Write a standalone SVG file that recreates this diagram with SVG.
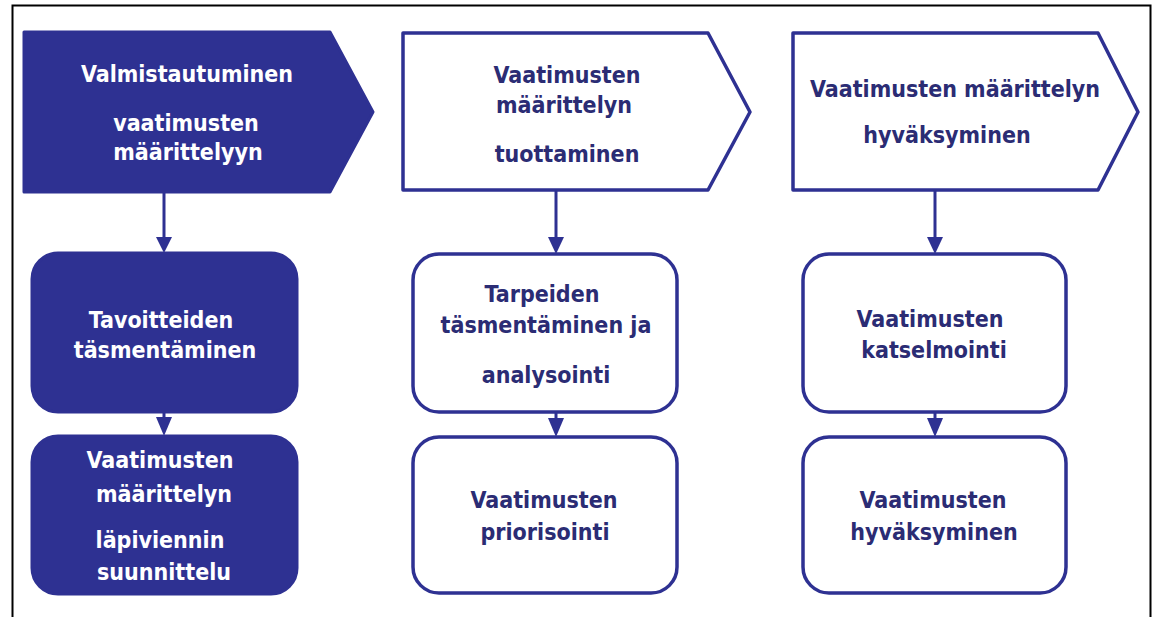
<svg xmlns="http://www.w3.org/2000/svg" width="1157" height="617" viewBox="0 0 1157 617">
  <style>
    .dark { fill: #2e3192; stroke: #2e3192; stroke-width: 3; stroke-linejoin: round; }
    .light { fill: #ffffff; stroke: #2e3192; stroke-width: 3.5; stroke-linejoin: round; }
    text { font-family: "DejaVu Sans Condensed", "DejaVu Sans", sans-serif; font-weight: bold; font-size: 23px; text-anchor: middle; }
    .wt { fill: #ffffff; }
    .bt { fill: #2b2c74; }
    .conn { stroke: #2e3192; stroke-width: 3; fill: none; }
    .head { fill: #2e3192; }
  </style>

  <!-- outer frame (open at the bottom) -->
  <path d="M12.5 617 V5.5 H1150.5 V617" fill="none" stroke="#000" stroke-width="2"/>

  <!-- connectors -->
  <g id="connectors">
    <line class="conn" x1="164" y1="192" x2="164" y2="240"/>
    <polygon class="head" points="156,237 172,237 164,253"/>
    <line class="conn" x1="164" y1="412" x2="164" y2="420"/>
    <polygon class="head" points="156,417 172,417 164,436"/>

    <line class="conn" x1="556" y1="190" x2="556" y2="240"/>
    <polygon class="head" points="548,237 564,237 556,254"/>
    <line class="conn" x1="556" y1="412" x2="556" y2="420"/>
    <polygon class="head" points="548,418 564,418 556,437"/>

    <line class="conn" x1="935" y1="190" x2="935" y2="240"/>
    <polygon class="head" points="927,237 943,237 935,254"/>
    <line class="conn" x1="935" y1="412" x2="935" y2="420"/>
    <polygon class="head" points="927,418 943,418 935,437"/>
  </g>

  <!-- column 1 -->
  <g id="phase-valmistautuminen">
    <polygon class="dark" points="24,32 330,32 373,112 330,192 24,192"/>
    <text class="wt" x="187" y="82">Valmistautuminen</text>
    <text class="wt" x="186" y="131">vaatimusten</text>
    <text class="wt" x="188" y="160">määrittelyyn</text>
  </g>
  <g id="step-tavoitteet">
    <rect class="dark" x="32" y="253" width="265" height="159" rx="26"/>
    <text class="wt" x="161" y="328">Tavoitteiden</text>
    <text class="wt" x="165" y="358">täsmentäminen</text>
  </g>
  <g id="step-suunnittelu">
    <rect class="dark" x="32" y="436" width="265" height="158" rx="26"/>
    <text class="wt" x="160" y="468">Vaatimusten</text>
    <text class="wt" x="164" y="502">määrittelyn</text>
    <text class="wt" x="160" y="548">läpiviennin</text>
    <text class="wt" x="164" y="580">suunnittelu</text>
  </g>

  <!-- column 2 -->
  <g id="phase-tuottaminen">
    <polygon class="light" points="403,33 708,33 750,112 708,190 403,190"/>
    <text class="bt" x="567" y="83">Vaatimusten</text>
    <text class="bt" x="564" y="113">määrittelyn</text>
    <text class="bt" x="567" y="162">tuottaminen</text>
  </g>
  <g id="step-analysointi">
    <rect class="light" x="413" y="254" width="264" height="158" rx="26"/>
    <text class="bt" x="542" y="302">Tarpeiden</text>
    <text class="bt" x="546" y="333">täsmentäminen ja</text>
    <text class="bt" x="546" y="383">analysointi</text>
  </g>
  <g id="step-priorisointi">
    <rect class="light" x="413" y="437" width="264" height="156" rx="26"/>
    <text class="bt" x="544" y="508">Vaatimusten</text>
    <text class="bt" x="545" y="540">priorisointi</text>
  </g>

  <!-- column 3 -->
  <g id="phase-hyvaksyminen">
    <polygon class="light" points="793,33 1098,33 1138,112 1098,190 793,190"/>
    <text class="bt" x="955" y="97">Vaatimusten määrittelyn</text>
    <text class="bt" x="947" y="143">hyväksyminen</text>
  </g>
  <g id="step-katselmointi">
    <rect class="light" x="803" y="254" width="263" height="158" rx="26"/>
    <text class="bt" x="930" y="327">Vaatimusten</text>
    <text class="bt" x="934" y="358">katselmointi</text>
  </g>
  <g id="step-hyvaksyminen">
    <rect class="light" x="803" y="437" width="263" height="156" rx="26"/>
    <text class="bt" x="933" y="508">Vaatimusten</text>
    <text class="bt" x="934" y="540">hyväksyminen</text>
  </g>
</svg>
